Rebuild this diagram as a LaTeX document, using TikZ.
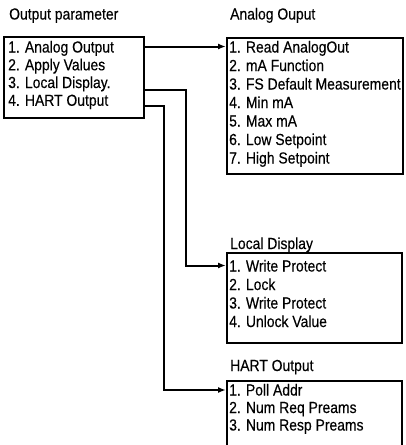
\documentclass[tikz,border=0pt]{standalone}
\usepackage{fontspec}
\setmainfont{Liberation Sans}[FakeStretch=0.87,FakeBold=0.3]
\usetikzlibrary{arrows.meta}
\begin{document}
\begin{tikzpicture}[x=1pt,y=-1pt,
  box/.style={draw, line width=2pt, inner sep=0pt, anchor=north west},
  item/.style={anchor=base west, inner sep=0pt, font=\fontsize{16}{18}\selectfont},
  conn/.style={line width=2pt, -{Latex[length=8pt,width=6pt]}}]
\useasboundingbox (0,0) rectangle (405,445);
\clip (0,0) rectangle (405,445);
% titles
\node[item] (t0) at (9,19.5) {Output parameter};
\node[item] (t1) at (230,19.5) {Analog Ouput};
\node[item] (t2) at (230,249) {Local Display};
\node[item] (t3) at (230,371) {HART Output};
% boxes
\node[box, minimum width=140pt, minimum height=81pt] (op) at (3,36) {};
\node[box, minimum width=176pt, minimum height=136pt] (ao) at (226,37) {};
\node[box, minimum width=175pt, minimum height=90pt] (ld) at (226,252) {};
\node[box, minimum width=175pt, minimum height=90pt] (ho) at (226,380) {};
% items
\node[item] (op1) at (8,52.5) {1. Analog Output};
\node[item] (op2) at (8,70.3) {2. Apply Values};
\node[item] (op3) at (8,88) {3. Local Display.};
\node[item] (op4) at (8,105.8) {4. HART Output};
\node[item] (ao1) at (229,52.5) {1. Read AnalogOut};
\node[item] (ao2) at (229,71) {2. mA Function};
\node[item] (ao3) at (229,89.5) {3. FS Default Measurement};
\node[item] (ao4) at (229,108) {4. Min mA};
\node[item] (ao5) at (229,126.5) {5. Max mA};
\node[item] (ao6) at (229,145) {6. Low Setpoint};
\node[item] (ao7) at (229,163.5) {7. High Setpoint};
\node[item] (ld1) at (229,271.5) {1. Write Protect};
\node[item] (ld2) at (229,290) {2. Lock};
\node[item] (ld3) at (229,308.5) {3. Write Protect};
\node[item] (ld4) at (229,327) {4. Unlock Value};
\node[item] (ho1) at (229,395.5) {1. Poll Addr};
\node[item] (ho2) at (229,413) {2. Num Req Preams};
\node[item] (ho3) at (229,430.5) {3. Num Resp Preams};
% connector points
\coordinate (s1) at (op.east |- 0,46.5);
\coordinate (e1) at (ao.west |- 0,46.5);
\coordinate (s2) at (op.east |- 0,90);
\coordinate (k2) at (186,90);
\coordinate (e2) at (ld.west |- 0,265.5);
\coordinate (s3) at (op.east |- 0,106);
\coordinate (k3) at (164,106);
\coordinate (e3) at (ho.west |- 0,390);
\draw[conn] (s1) -- (e1);
\draw[conn] (s2) -- (k2) |- (e2);
\draw[conn] (s3) -- (k3) |- (e3);
\end{tikzpicture}
\end{document}
